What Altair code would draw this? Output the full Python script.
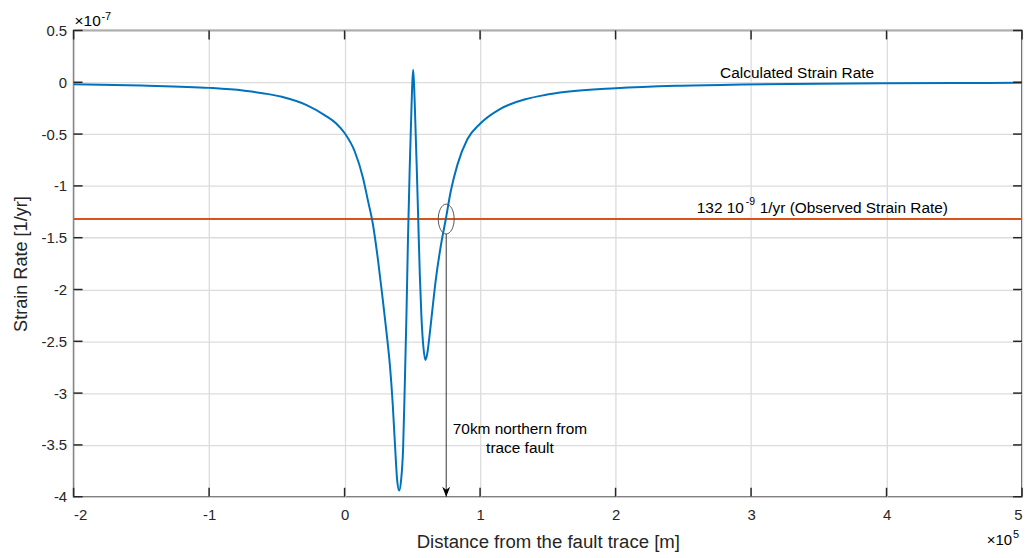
import altair as alt
import pandas as pd

# ---- data (x in units of 1e5 m, y in units of 1e-7 1/yr) ----
curve_x = [-2.0, -1.5, -1.0, -0.75, -0.464, -0.28, -0.145, -0.06, 0.0, 0.075, 0.136, 0.172,
           0.209, 0.246, 0.282, 0.31, 0.335, 0.355, 0.372, 0.388, 0.403, 0.417, 0.432,
           0.445, 0.457, 0.468, 0.48, 0.4916, 0.499, 0.506, 0.513, 0.521, 0.532, 0.543,
           0.555, 0.567, 0.582, 0.596, 0.61, 0.629, 0.65, 0.673, 0.71, 0.747, 0.784, 0.833,
           0.906, 1.0, 1.15, 1.346, 1.47, 1.64, 2.0, 2.45, 2.94, 3.5, 4.0, 4.5, 5.0]
curve_y = [-0.02, -0.032, -0.054, -0.08, -0.14, -0.22, -0.319, -0.40, -0.49, -0.668, -0.923, -1.14,
           -1.37, -1.71, -2.10, -2.42, -2.74, -3.10, -3.50, -3.84, -3.94, -3.84, -3.53,
           -2.88, -2.22, -1.50, -0.86, -0.34, -0.03, 0.12, -0.03, -0.34, -0.80, -1.30,
           -1.85, -2.26, -2.56, -2.68, -2.62, -2.42, -2.17, -1.907, -1.58, -1.32, -1.05, -0.795,
           -0.55, -0.40, -0.256, -0.16, -0.125, -0.092, -0.058, -0.034, -0.022, -0.014, -0.01,
           -0.007, -0.005]
observed_rate = [-1.32]
x_ticks = [-2, -1, 0, 1, 2, 3, 4, 5]
y_ticks = [0.5, 0, -0.5, -1, -1.5, -2, -2.5, -3, -3.5, -4]
marker_x = [0.75]
marker_y = [-1.32]
arrow_top = [-1.464]
arrow_bottom = [-4.0]

curve_label = ["Calculated Strain Rate"]
curve_label_pos = [3.34, 0.04]
obs_label = ["132 10", "-9", "1/yr (Observed Strain Rate)"]
obs_label_pos = [2.947, -1.257]
note_label = [["70km northern from", "trace fault"]]
note_label_pos = [1.294, -3.39]

W, H = 954, 469
BLUE = "#0072BD"
ORANGE = "#D95319"
DARK = "#262626"
FONT = "Liberation Sans"

xs = alt.Scale(domain=[-2, 5], nice=False, zero=False)
ys = alt.Scale(domain=[-4, 0.5], nice=False, zero=False)

x_axis = alt.Axis(values=x_ticks, labelExpr="'' + datum.value", grid=True,
                  gridColor="#dcdcdc", gridWidth=1.3, domain=False, ticks=False, tickSize=0,
                  labelFontSize=15, labelPadding=11, labelColor=DARK, labelFont=FONT,
                  title="Distance from the fault trace [m]", titleFontSize=18.7,
                  titleFontWeight="normal", titleFont=FONT, titleColor=DARK,
                  titleY=51, titleBaseline="alphabetic")
y_axis = alt.Axis(values=y_ticks, labelExpr="'' + datum.value", grid=True,
                  gridColor="#dcdcdc", gridWidth=1.3, domain=False, ticks=False, tickSize=0,
                  labelFontSize=15, labelPadding=7, labelColor=DARK, labelFont=FONT,
                  title="Strain Rate [1/yr]", titleFontSize=18.2, titleFontWeight="normal",
                  titleFont=FONT, titleColor=DARK, titleX=-47, titleY=H / 2,
                  titleAngle=-90, titleBaseline="alphabetic", titleAlign="center")


def X(field="x:Q"):
    return alt.X(field, scale=xs, axis=x_axis)


def Y(field="y:Q"):
    return alt.Y(field, scale=ys, axis=y_axis)


curve_df = pd.DataFrame({"x": curve_x, "y": curve_y})
curve = alt.Chart(curve_df).mark_line(color=BLUE, strokeWidth=2, interpolate="monotone").encode(
    x=X(), y=Y())

obs = alt.Chart(pd.DataFrame({"y": observed_rate})).mark_rule(color=ORANGE, strokeWidth=2).encode(
    y=Y())

# inward ticks on all four sides
xt = pd.DataFrame({"x": x_ticks})
yt = pd.DataFrame({"y": y_ticks})
tick_len = 9
ticks_bottom = alt.Chart(xt).mark_rule(color=DARK, strokeWidth=1.5).encode(
    x=X(), y=alt.value(H), y2=alt.value(H - tick_len))
ticks_top = alt.Chart(xt).mark_rule(color=DARK, strokeWidth=1.5).encode(
    x=X(), y=alt.value(0), y2=alt.value(tick_len))
ticks_left = alt.Chart(yt).mark_rule(color=DARK, strokeWidth=1.5).encode(
    y=Y(), x=alt.value(0), x2=alt.value(tick_len))
ticks_right = alt.Chart(yt).mark_rule(color=DARK, strokeWidth=1.5).encode(
    y=Y(), x=alt.value(W), x2=alt.value(W - tick_len))

# ellipse marker and arrow
ellipse_path = ("M 0.533,0 C 0.533,0.552 0.294,1 0,1 C -0.294,1 -0.533,0.552 -0.533,0 "
                "C -0.533,-0.552 -0.294,-1 0,-1 C 0.294,-1 0.533,-0.552 0.533,0 Z")
ellipse = alt.Chart(pd.DataFrame({"x": marker_x, "y": marker_y})).mark_point(
    shape=ellipse_path, size=900, filled=False, stroke="#555555", strokeWidth=1, opacity=1
).encode(x=X(), y=Y())

arrow_df = pd.DataFrame({"x": marker_x, "y": arrow_top, "y2": arrow_bottom})
arrow_line = alt.Chart(arrow_df).mark_rule(color="#333333", strokeWidth=1).encode(
    x=X(), y=Y(), y2="y2:Q")
head_path = "M 0,0 L -0.4,-1 L 0,-0.7 L 0.4,-1 Z"
arrow_head = alt.Chart(pd.DataFrame({"x": marker_x, "y": arrow_bottom})).mark_point(
    shape=head_path, size=400, filled=True, color="#000000", opacity=1
).encode(x=X(), y=Y())


def label(text, x, y, size=15.5, align="center", dx=0, dy=0, baseline="alphabetic"):
    kw = dict(fontSize=size, align=align, dx=dx, dy=dy, baseline=baseline, font=FONT,
              color="#000000")
    return alt.Chart(pd.DataFrame({"x": [x], "y": [y], "t": [text]})).mark_text(**kw).encode(
        x=X(), y=Y(), text="t")


texts = [
    label(curve_label[0], curve_label_pos[0], curve_label_pos[1]),
    label(obs_label[0], obs_label_pos[0], obs_label_pos[1], align="right"),
    label(obs_label[1], obs_label_pos[0], obs_label_pos[1], size=10.5, align="left", dx=2, dy=-8),
    label(obs_label[2], obs_label_pos[0], obs_label_pos[1], align="left", dx=16),
]

note_df = pd.DataFrame({"x": [note_label_pos[0]], "y": [note_label_pos[1]], "t": note_label})
note = alt.Chart(note_df).mark_text(fontSize=15.5, align="center", baseline="alphabetic",
                                    lineHeight=19.5, font=FONT, color="#000000").encode(
    x=X(), y=Y(), text="t")

# axis exponent labels
exp_texts = [
    label("×10", -2, 0.5, size=15.5, align="left", dx=1, dy=-4),
    label("-7", -2, 0.5, size=11, align="left", dx=28, dy=-11),
    label("×10", 5, -4, size=15, align="right", dx=-10, dy=49),
    label("5", 5, -4, size=11, align="left", dx=-9, dy=42),
]

chart = alt.layer(
    obs, curve, ticks_bottom, ticks_top, ticks_left, ticks_right,
    ellipse, arrow_line, arrow_head, *texts, note, *exp_texts
).properties(
    width=W, height=H,
    autosize=alt.AutoSizeParams(type="none"),
    padding={"left": 66, "top": 21, "right": 6, "bottom": 55},
    background="white",
).configure_view(stroke=DARK, strokeWidth=1.5)

chart.save("out.html", embed_options={"renderer": "svg", "actions": False})
